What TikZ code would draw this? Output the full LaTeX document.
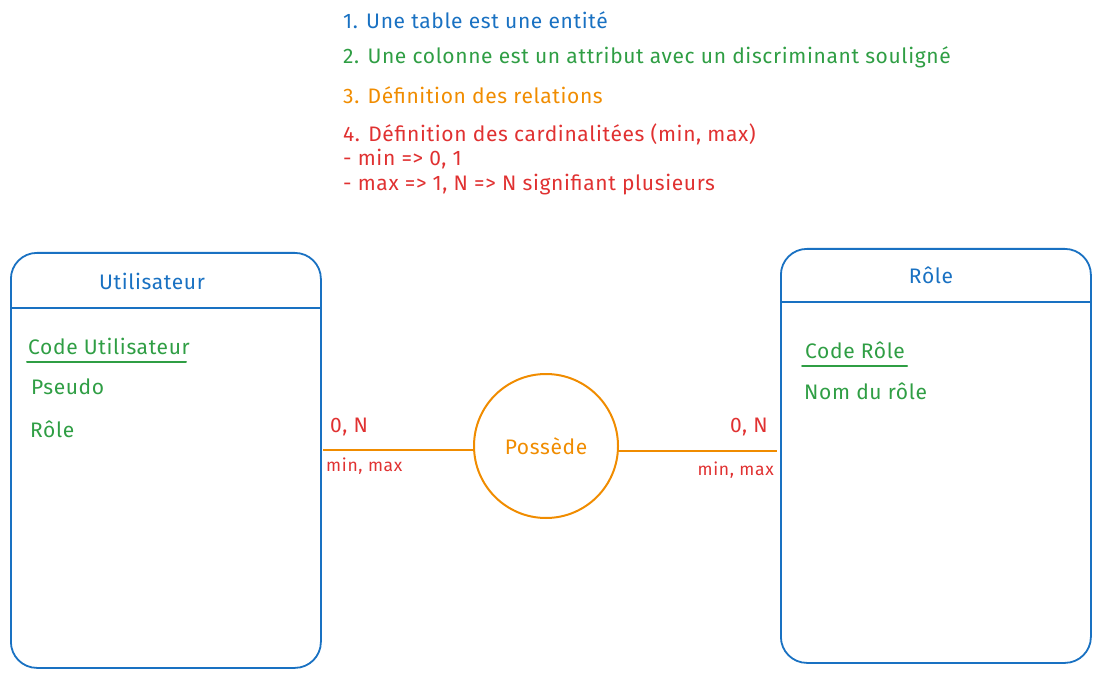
\documentclass[tikz,border=0pt]{standalone}
\usepackage{fontspec}
\setmainfont{Fira Sans}
\usetikzlibrary{calc}
\definecolor{exblue}{HTML}{1971C2}
\definecolor{exgreen}{HTML}{2F9E44}
\definecolor{exorange}{HTML}{F08C00}
\definecolor{exred}{HTML}{E03131}
\begin{document}
\begin{tikzpicture}[x=1pt,y=1pt,
  entity/.style={draw=exblue, line width=1.8pt, rounded corners=26pt, inner sep=0pt},
  divider/.style={draw=exblue, line width=2.4pt},
  txt/.style={font=\fontsize{21}{25}\selectfont\addfontfeatures{LetterSpace=3}, inner sep=0pt, anchor=west},
  small/.style={font=\fontsize{17.5}{21}\selectfont\addfontfeatures{LetterSpace=4}, inner sep=0pt},
  attr/.style={txt, text=exgreen},
  underl/.style={draw=exgreen, line width=2pt, line cap=round},
  rel/.style={draw=exorange, line width=2pt},
  card/.style={text=exred}]
\useasboundingbox (0,0) rectangle (1100,-676);

% legend
\node[txt, text=exblue]   (n1) at (343,-20)  {1. Une table est une entité};
\node[txt, text=exgreen]  (n2) at (343,-57)  {2. Une colonne est un attribut avec un discriminant souligné};
\node[txt, text=exorange] (n3) at (343,-95)  {3. Définition des relations};
\node[txt, text=exred]    (n4) at (343,-134) {4. Définition des cardinalitées (min, max)};
\node[txt, text=exred]    (n5) at (343,-159) {- min => 0, 1};
\node[txt, text=exred]    (n6) at (343,-185) {- max => 1, N => N signifiant plusieurs};

% entity Utilisateur
\node[entity, minimum width=310, minimum height=415, anchor=north west] (util) at (10,-252) {};
\draw[divider] ([yshift=-56]util.north west) -- ([yshift=-56,xshift=-2]util.north east);
\node[txt, anchor=center, text=exblue] (utitle) at (152,-281) {Utilisateur};
\node[attr] (ucode) at (28,-346) {Code Utilisateur};
\draw[underl] (27,-362) -- (186,-362);
\node[attr] (upseudo) at (31,-387) {Pseudo};
\node[attr] (urole) at (30,-429) {Rôle};

% entity Rôle
\node[entity, minimum width=310, minimum height=414, anchor=north west] (role) at (780,-248) {};
\draw[divider] ([yshift=-54]role.north west) -- ([yshift=-54,xshift=-2]role.north east);
\node[txt, anchor=center, text=exblue] (rtitle) at (931,-275) {Rôle};
\node[attr] (rcode) at (805,-350) {Code Rôle};
\draw[underl] (802,-366) -- (907,-366);
\node[attr] (rnom) at (804,-391) {Nom du rôle};

% association
\node[draw=exorange, line width=2pt, circle, minimum size=144, inner sep=0pt,
      font=\fontsize{21}{25}\selectfont\addfontfeatures{LetterSpace=3}, text=exorange] (poss) at (546,-446) {Possède};
\coordinate (la) at (323,-450);
\coordinate (rb) at (777,-451);
\draw[rel] (la) -- (poss.west |- la);
\draw[rel] (poss.east |- rb) -- (rb);

% cardinalities
\node[txt, card, anchor=west] (lcard) at (330,-427) {0, N};
\node[small, card, anchor=west] (lmm) at (326,-466) {min, max};
\node[txt, card, anchor=east] (rcard) at (768,-427) {0, N};
\node[small, card, anchor=east] (rmm) at (774,-470) {min, max};
\end{tikzpicture}
\end{document}
